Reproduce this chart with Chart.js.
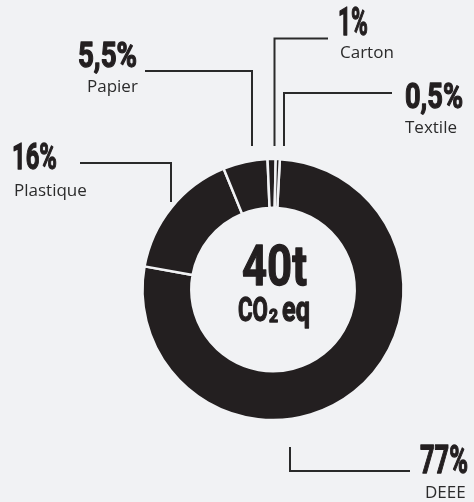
<!DOCTYPE html>
<html><head><meta charset="utf-8">
<script src="https://cdn.jsdelivr.net/npm/chart.js@4.4.1/dist/chart.umd.min.js"></script>
<style>html,body{margin:0;padding:0;background:#f1f2f4;overflow:hidden}canvas{display:block}</style>
</head><body>
<canvas id="c" width="474" height="502"></canvas>
<script>
// ---- data ----
const categories = ['DEEE', 'Plastique', 'Papier', 'Carton', 'Textile'];
const shares = [77, 16, 5.5, 1, 0.5];
const totalTonnes = 40;
const centerUnit = ['CO', '2', 'eq'];

// ---- annotation layout (positions only) ----
const labelLayout = {
  DEEE:      { px: 420, pb: 473, cap: 28, pw: 48, nx: 425, nb: 498, line: [[290, 447], [290, 471], [410, 471]] },
  Plastique: { px: 12,  pb: 169, cap: 26, pw: 45, nx: 14,  nb: 196, line: [[80, 163], [171, 163], [171, 202]] },
  Papier:    { px: 78,  pb: 67,  cap: 24.5, pw: 59, nx: 87,  nb: 92,  line: [[145, 71], [252, 71], [252, 146]] },
  Carton:    { px: 338, pb: 35,  cap: 28, pw: 30, nx: 340, nb: 58,  line: [[328, 38.5], [274.5, 38.5], [274.5, 146]] },
  Textile:   { px: 405, pb: 108, cap: 25.5, pw: 58, nx: 405, nb: 133, line: [[392, 93], [284, 93], [284, 146]] }
};
const INK = '#231f20';
const BG = '#f1f2f4';

function fmtPct(v) { return String(v).replace('.', ',') + '%'; }

function condensed(ctx, text, x, base, cap, width) {
  const fs = cap / 0.711;
  ctx.font = 'bold ' + fs + 'px Roboto';
  const m = ctx.measureText(text).width;
  const sx = width / m;
  ctx.save();
  ctx.translate(x, base);
  ctx.scale(sx, 1);
  ctx.textBaseline = 'alphabetic';
  ctx.textAlign = 'left';
  ctx.lineJoin = 'round';
  ctx.lineWidth = 1.3;
  ctx.strokeStyle = ctx.fillStyle;
  ctx.fillText(text, 0, 0);
  ctx.strokeText(text, 0, 0);
  ctx.restore();
}

const annotations = {
  id: 'annotations',
  afterDraw(chart) {
    const ctx = chart.ctx;
    ctx.save();
    ctx.lineWidth = 2;
    categories.forEach((cat, i) => {
      const L = labelLayout[cat];
      ctx.strokeStyle = '#2a2a2a';
      ctx.lineWidth = 2;
      ctx.beginPath();
      L.line.forEach((p, j) => j ? ctx.lineTo(p[0], p[1]) : ctx.moveTo(p[0], p[1]));
      ctx.stroke();
      ctx.fillStyle = INK;
      condensed(ctx, fmtPct(shares[i]), L.px, L.pb, L.cap, L.pw);
      ctx.fillStyle = '#2b2b2b';
      ctx.font = '17px "Open Sans"';
      ctx.textBaseline = 'alphabetic';
      ctx.textAlign = 'left';
      ctx.fillText(cat, L.nx, L.nb);
    });
    // center text
    ctx.fillStyle = INK;
    condensed(ctx, totalTonnes + 't', 242, 284.5, 40, 65);
    condensed(ctx, centerUnit[0], 238, 320.5, 24, 30);
    condensed(ctx, centerUnit[1], 269, 322, 13, 9);
    condensed(ctx, centerUnit[2], 282, 320.5, 19 * 0.711 / 0.528, 28);
    ctx.restore();
  }
};

new Chart(document.getElementById('c'), {
  type: 'doughnut',
  data: {
    labels: categories,
    datasets: [{
      data: shares,
      backgroundColor: INK,
      borderColor: BG,
      borderWidth: 2.5,
      borderAlign: 'center',
      hoverOffset: 0
    }]
  },
  options: {
    responsive: false,
    animation: false,
    rotation: 3,
    cutout: '62.6%',
    layout: { padding: { left: 141.25, right: 69.25, top: 157.75, bottom: 80.75 } },
    plugins: { legend: { display: false }, tooltip: { enabled: false } },
    events: []
  },
  plugins: [annotations]
});
</script>
</body></html>
